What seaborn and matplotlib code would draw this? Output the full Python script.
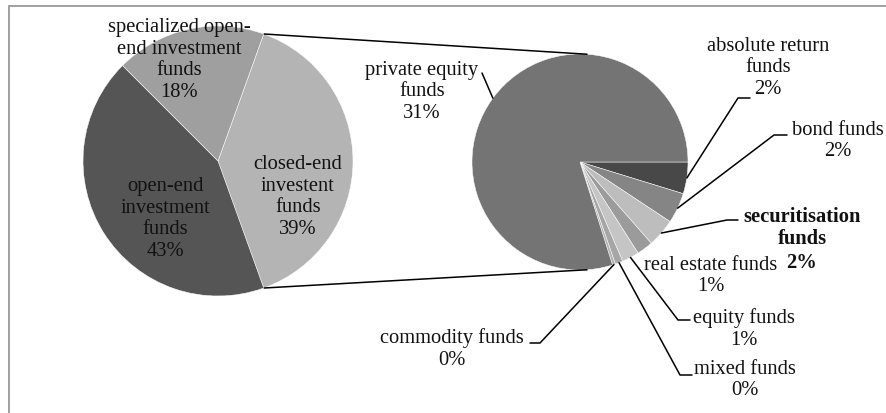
import numpy as np
import matplotlib
matplotlib.use('Agg')
import matplotlib.pyplot as plt
import seaborn as sns

sns.set_theme(style='white')
plt.rcParams['font.family'] = ['Liberation Serif', 'DejaVu Serif']

# ── data ──────────────────────────────────────────────────────────────────────
main_labels = ['closed-end\ninvestent\nfunds', 'open-end\ninvestment\nfunds',
               'specialized open-\nend investment\nfunds']
main_values = [39.0, 43.0, 18.0]
main_colors = ['#b4b4b4', '#555555', '#9f9f9f']

sub_labels = ['absolute return\nfunds', 'bond funds', 'securitisation\nfunds',
              'real estate funds', 'equity funds', 'mixed funds',
              'commodity funds', 'private equity\nfunds']
sub_values = [1.85, 1.78, 1.65, 0.95, 1.00, 0.45, 0.17, 31.15]
sub_colors = ['#484848', '#858585', '#bdbdbd', '#9b9b9b',
              '#c5c5c5', '#a6a6a6', '#b2b2b2', '#747474']

W, H = 886, 413
def P(x, y):
    # pixel coords (y down) -> axes coords (y up)
    return x, H - y

fig = plt.figure(figsize=(W / 100, H / 100), dpi=100)
ax = fig.add_axes([0, 0, 1, 1])

# ── left pie ──────────────────────────────────────────────────────────────────
cL, rL = P(218, 161), 135
startL = main_values[0] / sum(main_values) * 180
ax.pie(main_values, colors=main_colors, startangle=startL, counterclock=False,
       center=cL, radius=rL, wedgeprops=dict(edgecolor='white', linewidth=0.35))

# ── right pie ─────────────────────────────────────────────────────────────────
cR, rR = P(580, 162), 108
startR = 0
wedges, _ = ax.pie(sub_values, colors=sub_colors, startangle=startR, counterclock=False,
                   center=cR, radius=rR, wedgeprops=dict(edgecolor='white', linewidth=0.35))

ax.set_xlim(0, W)
ax.set_ylim(0, H)
ax.axis('off')

# connector lines between pies
for sgn in (1, -1):
    a1 = np.deg2rad(sgn * startL)
    a2 = np.deg2rad(sgn * 86)
    ax.plot([cL[0] + rL * np.cos(a1), cR[0] + rR * np.cos(a2)],
            [cL[1] + rL * np.sin(a1), cR[1] + rR * np.sin(a2)],
            color='black', lw=1.1, solid_capstyle='butt')

fs = 14.8

# left pie labels
main_pos = [(298, 197), (165, 219), (179, 60)]
for lab, v, (x, y) in zip(main_labels, main_values, main_pos):
    ax.text(*P(x, y), f'{lab}\n{round(v)}%', ha='center', va='center', fontsize=fs,
            color='#111111')

# right pie labels: text position, leader elbow, leader end (None = no leader)
sub_pos = [(768, 68), (838, 141), (802, 240), (711, 276),
           (744, 329), (745, 380), (452, 349), (422, 92)]
leaders = [((738, 98), (750, 98)), ((774, 135), (787, 135)), ((727, 220), (738, 220)),
           None, ((678, 320), (690, 320)), ((680, 375), (692, 375)),
           ((540, 343), (530, 343)), ((482, 73), (482, 73))]

for w, lab, v, (x, y), ld in zip(wedges, sub_labels, sub_values, sub_pos, leaders):
    if lab.startswith('securitisation'):
        # bold label; the % sits on its own line beside "real estate funds"
        ax.text(*P(x, y - 12), lab, ha='center', va='center', fontsize=fs,
                color='#111111', fontweight='bold')
        ax.text(*P(x, y + 23), f'{round(v)}%', ha='center', va='center', fontsize=fs,
                color='#111111', fontweight='bold')
    else:
        ax.text(*P(x, y), f'{lab}\n{round(v)}%', ha='center', va='center', fontsize=fs,
                color='#111111')
    if ld is None:
        continue
    mid = np.deg2rad((w.theta1 + w.theta2) / 2)
    px, py = cR[0] + rR * np.cos(mid), cR[1] + rR * np.sin(mid)
    (ex, ey), (fx, fy) = P(*ld[0]), P(*ld[1])
    ax.plot([px, ex, fx], [py, ey, fy], color='black', lw=1.1)

# chart border (cropped on right / bottom)
ax.plot([9, 9], [-10, H - 6], color='#a0a0a0', lw=1.4)
ax.plot([9, W + 10], [H - 6, H - 6], color='#a0a0a0', lw=1.4)

fig.savefig('out.png', dpi=100)
